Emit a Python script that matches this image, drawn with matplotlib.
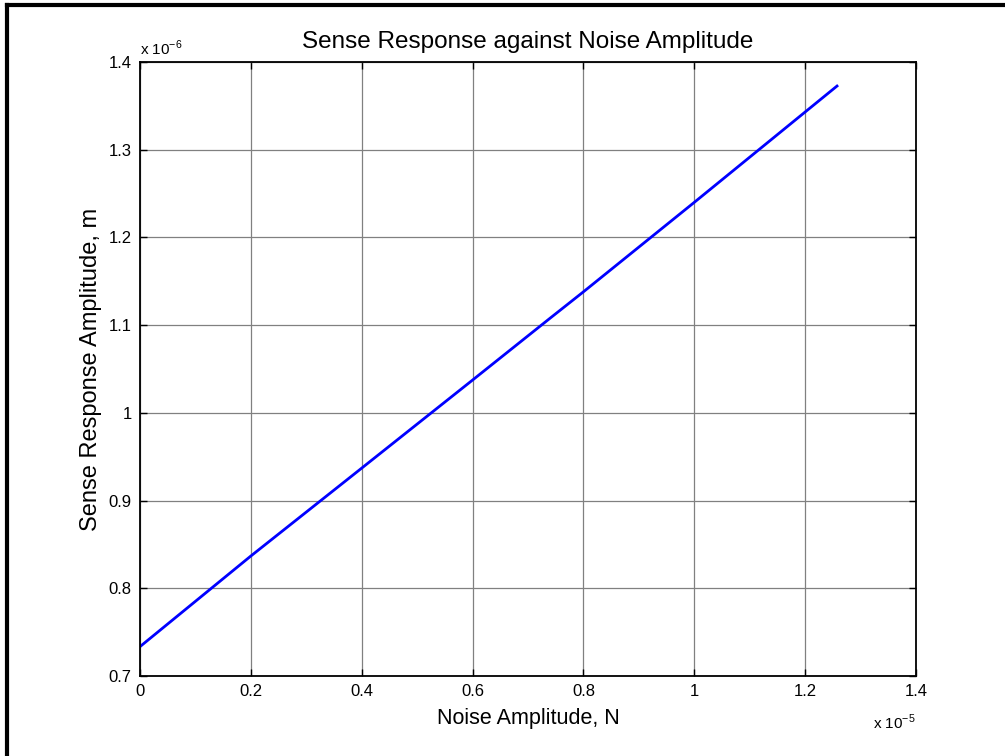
import matplotlib
matplotlib.use('Agg')
import matplotlib.pyplot as plt
import matplotlib.ticker as ticker
from matplotlib.lines import Line2D

plt.rcParams['font.family'] = ['Liberation Sans', 'DejaVu Sans']
plt.rcParams['mathtext.fontset'] = 'custom'
plt.rcParams['mathtext.rm'] = 'Liberation Sans'

# noise amplitude in units of 1e-5 N, response in units of 1e-6 m
noise_amp = [0.0, 0.2, 0.4, 0.6, 0.74, 0.8, 1.0, 1.2, 1.2575]
sense_resp = [0.7335, 0.8368, 0.937, 1.0374, 1.108, 1.138, 1.240, 1.343, 1.3726]

x_ticks = [0, 0.2, 0.4, 0.6, 0.8, 1.0, 1.2, 1.4]
y_ticks = [0.7, 0.8, 0.9, 1.0, 1.1, 1.2, 1.3, 1.4]

fig = plt.figure(figsize=(10.05, 7.56), dpi=100)
ax = fig.add_axes([140/1005, 1 - 676/756, (916 - 140)/1005, (676 - 62)/756])

ax.plot(noise_amp, sense_resp, color='#0000ff', lw=2)

ax.set_xlim(0, 1.4)
ax.set_ylim(0.7, 1.4)
ax.set_xticks(x_ticks)
ax.set_yticks(y_ticks)
ax.xaxis.set_major_formatter(ticker.FormatStrFormatter('%g'))
ax.yaxis.set_major_formatter(ticker.FormatStrFormatter('%g'))
ax.tick_params(direction='in', top=True, right=True, length=5, width=1,
               labelsize=12, pad=6)
ax.grid(True, color='#808080', lw=0.9)
for s in ax.spines.values():
    s.set_linewidth(1.3)

ax.set_title('Sense Response against Noise Amplitude', fontsize=17.5, pad=10)
ax.set_xlabel('Noise Amplitude, N', fontsize=15.5, labelpad=6)
ax.set_ylabel('Sense Response Amplitude, m', fontsize=17, labelpad=5)

fig.text(140/1005, 1 - 48/756, r'x 10$^{-6}$', fontsize=11, ha='left', va='center')
fig.text(873/1005, 1 - 722/756, r'x 10$^{-5}$', fontsize=11, ha='left', va='center')

# outer frame (top and left edges visible)
fig.add_artist(Line2D([7/1005, 1], [1 - 5/756, 1 - 5/756], color='black', lw=3,
                      transform=fig.transFigure))
fig.add_artist(Line2D([7/1005, 7/1005], [0, 1 - 5/756], color='black', lw=3,
                      transform=fig.transFigure))

fig.savefig('out.png', dpi=100)
